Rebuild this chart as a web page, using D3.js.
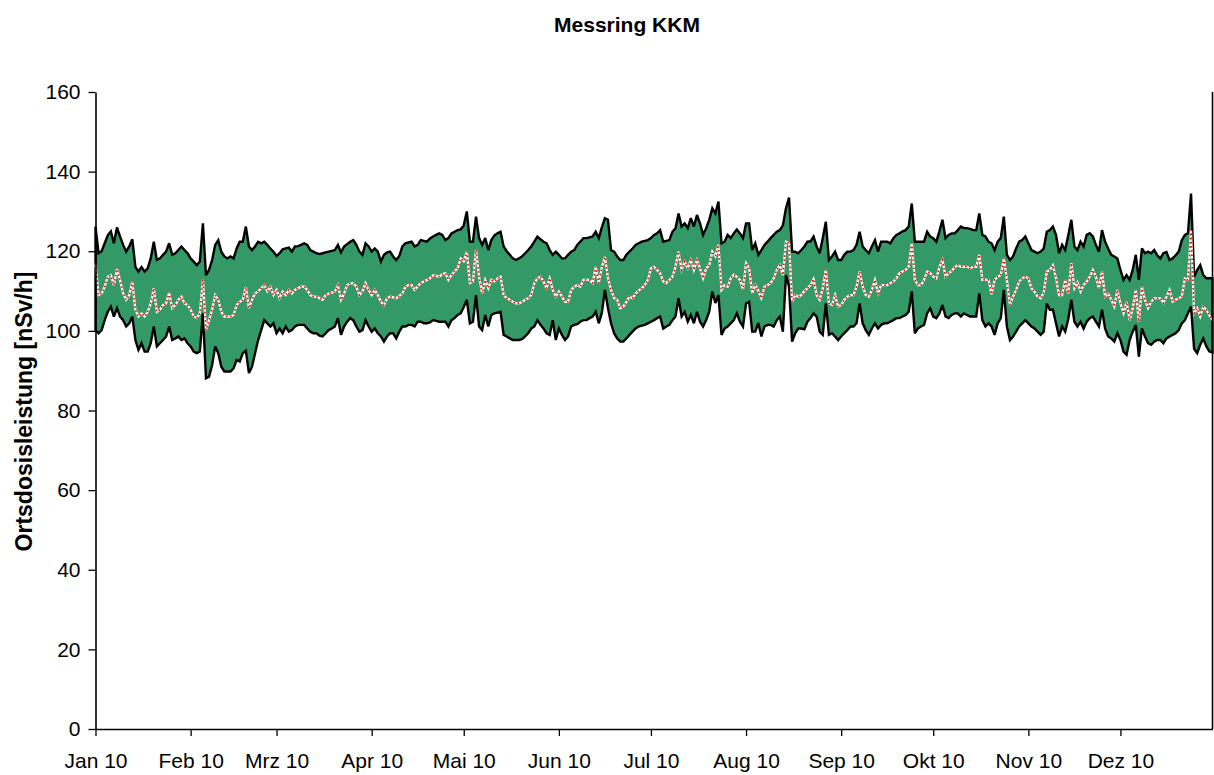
<!DOCTYPE html>
<html>
<head>
<meta charset="utf-8">
<script src="https://cdn.jsdelivr.net/npm/d3@7"></script>
<style>
  html, body { margin: 0; padding: 0; background: #fff; }
  svg { display: block; }
  text { font-family: "Liberation Sans", Arial, sans-serif; fill: #000; }
</style>
</head>
<body>
<svg id="chart" width="1214" height="775"></svg>
<script>
// Daily dose-rate readings 2010, KKM measuring ring (nSv/h)
const startDate = "2010-01-01";
const endDate = "2010-12-31";

// daily maximum over all stations
const maxValues = [
  126.2,119.5,120.0,122.0,124.0,125.0,122.0,126.0,123.7,121.6,
  119.9,121.2,123.0,116.1,114.9,116.0,114.9,115.7,118.2,122.4,
  117.8,118.2,119.1,119.9,122.0,119.1,119.5,120.3,121.2,120.3,
  119.5,118.2,117.4,116.5,117.4,127.0,114.0,115.3,117.8,121.6,
  122.8,119.9,118.7,118.2,118.7,118.2,120.7,122.4,122.4,126.2,
  121.2,120.3,121.2,122.4,122.0,122.4,121.6,120.7,119.9,118.8,
  119.5,120.5,120.7,120.9,119.9,121.2,121.3,121.6,122.0,121.6,
  120.3,119.9,119.5,119.3,119.5,119.7,119.9,120.1,120.3,121.6,
  119.7,121.2,121.8,122.4,122.8,121.6,119.9,119.1,122.0,121.2,
  119.9,120.7,119.9,117.4,119.1,119.7,119.9,118.7,117.8,118.8,
  121.2,122.0,122.2,122.4,121.2,121.6,122.8,122.6,122.4,123.2,
  123.7,124.1,124.5,124.1,122.8,123.3,124.5,124.9,125.3,125.5,
  126.5,130.0,122.4,122.4,128.7,123.3,121.6,123.3,120.3,122.8,
  124.0,124.5,124.9,121.2,120.0,119.1,118.2,117.8,118.2,118.7,
  119.5,120.3,121.2,122.4,123.7,123.0,122.4,122.0,120.3,119.1,
  119.9,119.1,118.2,118.2,119.1,119.9,120.3,121.6,122.4,123.3,
  123.3,123.5,123.7,124.9,123.3,126.0,128.3,127.9,120.3,119.9,
  118.7,117.8,117.8,119.1,119.9,120.7,121.6,122.0,122.4,122.6,
  122.8,123.3,124.1,124.5,125.3,122.4,122.6,122.8,124.9,125.8,
  129.5,126.2,127.0,125.8,128.3,126.2,129.1,127.0,124.1,125.8,
  127.9,130.8,129.5,132.5,122.0,122.4,124.1,123.3,124.5,125.5,
  124.5,123.3,127.0,127.0,120.3,122.0,119.1,120.3,121.6,122.4,
  123.3,124.1,124.9,125.3,126.5,130.8,133.5,119.9,119.9,119.5,
  120.3,121.2,122.4,122.5,123.7,121.2,119.5,123.3,127.4,117.8,
  118.7,119.9,117.8,117.8,119.1,119.9,119.9,120.3,121.6,124.9,
  121.2,120.3,119.5,121.2,122.8,119.9,122.4,122.4,122.4,122.0,
  123.3,124.1,124.5,125.0,125.3,126.2,132.0,122.4,122.4,122.4,
  122.4,124.9,123.7,123.3,122.4,125.0,127.9,123.3,124.1,124.5,
  124.5,125.3,126.2,125.8,125.8,125.6,125.3,125.3,129.5,124.1,
  123.7,122.4,122.0,120.3,122.4,123.3,128.7,119.1,117.8,118.7,
  120.7,122.4,122.8,123.7,122.0,120.3,119.9,119.5,119.9,120.7,
  124.9,125.3,126.2,124.1,119.5,121.6,120.3,124.0,127.9,121.2,
  120.3,122.4,121.2,124.1,124.5,123.7,121.6,119.9,125.3,122.4,
  120.7,119.1,118.7,118.2,115.3,112.8,114.0,112.8,115.3,119.1,
  112.8,120.7,119.5,119.9,119.5,120.3,119.0,118.2,119.5,119.8,
  117.8,118.2,119.0,119.9,122.8,124.1,124.5,134.5,113.6,115.3,
  116.5,114.0,113.2,113.2,113.2
];

// daily mean over all stations
const meanValues = [
  116.9,109.0,109.4,111.1,113.6,114.0,111.5,115.5,112.8,109.4,
  107.8,109.0,112.4,105.3,103.6,104.4,103.6,104.8,106.9,110.7,
  104.8,105.3,106.5,106.9,109.6,105.7,106.5,107.8,108.6,106.9,
  106.5,105.3,103.6,103.2,104.4,112.8,100.2,102.7,105.3,109.0,
  107.8,104.8,103.6,103.6,103.6,104.0,106.5,107.3,107.8,111.0,
  105.7,107.8,109.4,109.9,110.7,111.5,109.9,111.1,109.0,110.3,
  108.2,109.9,109.0,110.3,109.4,110.3,110.7,111.1,111.1,110.3,
  109.0,108.6,108.6,108.2,107.8,109.0,109.4,109.6,109.9,111.5,
  107.8,109.4,111.5,111.9,112.0,111.1,109.0,109.9,112.0,110.3,
  109.0,110.3,109.0,107.3,106.5,108.2,108.6,108.4,108.2,108.8,
  109.4,111.1,111.5,111.5,110.3,111.2,112.0,112.4,112.8,113.2,
  114.0,113.8,113.6,114.2,114.5,112.8,114.0,114.9,115.7,118.2,
  117.5,119.9,112.0,112.4,120.3,113.6,109.4,112.8,110.7,112.8,
  112.4,113.2,113.6,109.0,108.2,107.8,107.3,106.9,106.9,107.3,
  107.8,108.2,109.0,112.0,113.2,113.6,112.4,110.7,113.2,110.3,
  108.6,109.9,108.6,107.3,107.3,110.3,111.1,111.5,111.1,112.8,
  112.8,112.8,112.0,116.1,112.0,116.0,118.6,113.2,110.3,108.2,
  107.8,105.7,106.1,107.3,108.6,108.2,109.4,110.1,110.7,111.5,
  112.8,115.7,116.1,115.3,114.5,112.4,112.0,112.8,113.6,116.1,
  119.9,115.3,117.4,115.7,117.8,115.3,117.8,115.7,113.2,115.7,
  116.5,119.9,118.7,121.6,110.3,111.5,111.1,113.2,114.1,113.6,
  112.8,110.3,117.0,115.7,109.4,111.5,110.0,108.2,111.1,111.5,
  112.0,113.2,115.3,116.5,114.0,122.4,122.0,107.3,109.0,108.6,
  109.0,110.0,110.7,111.5,113.0,109.0,107.8,110.7,115.3,106.9,
  106.5,109.0,106.1,106.5,107.8,108.6,109.0,109.0,111.1,114.9,
  111.1,109.0,108.6,110.3,112.8,109.4,111.5,111.5,111.5,112.0,
  112.4,113.2,114.5,114.9,115.3,116.1,122.0,112.8,111.5,111.5,
  112.8,114.9,114.5,113.6,113.2,116.0,117.8,113.6,114.5,115.0,
  116.0,116.5,116.1,116.1,116.1,115.7,116.1,116.1,119.1,112.8,
  112.8,112.8,109.2,112.8,113.6,114.0,118.2,112.8,106.5,108.6,
  110.3,112.4,113.2,113.6,113.2,110.7,109.8,108.6,108.2,109.6,
  114.9,115.3,116.5,113.2,109.0,109.0,112.8,109.4,117.0,110.7,
  112.2,109.9,111.5,112.4,113.6,115.3,113.6,110.7,114.9,108.6,
  109.4,107.8,106.1,110.3,106.9,104.4,107.3,102.7,105.7,110.3,
  102.3,111.1,107.8,105.7,107.3,108.2,108.2,108.2,107.0,108.6,
  110.3,107.3,107.8,108.2,108.6,113.2,112.8,125.3,104.4,105.7,
  103.6,106.1,105.3,103.8,102.7
];

// daily minimum over all stations
const minValues = [
  100.2,99.4,100.2,102.7,104.8,106.1,103.6,105.7,103.6,102.7,
  101.1,101.9,103.6,97.7,95.2,96.9,94.8,94.8,96.9,101.1,
  96.1,96.9,97.7,98.6,101.1,97.7,98.1,98.6,97.7,98.1,
  96.9,96.1,94.8,94.4,94.8,104.4,88.1,88.5,91.4,96.1,
  94.4,91.0,89.8,89.8,89.8,90.6,92.7,92.3,94.4,95.0,
  89.4,91.0,94.4,97.7,100.2,102.7,101.9,101.1,101.9,99.4,
  100.6,99.4,101.1,99.8,100.2,101.1,101.5,101.5,101.5,100.6,
  99.8,99.4,99.4,98.8,98.6,99.4,100.2,100.6,101.1,103.2,
  99.0,101.1,102.3,103.2,102.7,101.1,99.8,100.2,102.7,101.1,
  99.8,100.6,99.4,98.6,97.3,98.6,99.4,99.4,98.1,99.8,
  101.1,101.1,101.5,101.5,101.1,102.3,102.3,101.9,101.9,102.1,
  102.7,102.5,102.3,102.3,102.3,101.1,102.7,103.2,104.0,104.4,
  106.0,107.8,101.9,102.3,109.0,101.1,100.2,104.0,101.1,104.0,
  104.4,104.6,104.8,99.0,98.6,98.1,97.7,97.7,97.7,97.9,
  98.6,99.4,100.6,101.1,102.7,101.5,100.6,99.4,99.0,102.7,
  97.7,100.6,99.0,97.7,98.6,101.1,101.5,101.7,102.3,102.7,
  102.7,103.2,103.6,104.8,101.9,104.5,110.3,105.7,101.9,99.4,
  98.1,97.3,97.3,98.1,99.0,99.8,100.6,101.1,101.3,101.5,
  101.9,102.3,102.7,103.2,103.6,100.6,101.1,101.5,102.7,103.6,
  108.2,103.6,104.8,102.3,104.0,101.9,104.8,102.3,101.1,102.7,
  104.8,109.9,107.0,109.0,99.0,100.6,101.1,101.9,102.7,104.4,
  102.3,101.1,106.9,107.3,99.8,99.8,102.0,98.6,101.1,101.5,
  101.5,101.1,102.7,103.6,99.8,114.0,111.1,97.3,99.4,100.6,
  100.6,100.4,102.3,103.2,104.4,103.6,99.8,99.0,106.9,99.0,
  99.4,98.6,97.7,98.6,99.4,100.2,101.1,101.1,101.9,106.9,
  101.9,100.2,99.0,100.6,101.9,100.6,101.5,101.9,101.9,102.3,
  102.7,103.2,103.2,103.6,104.0,104.8,109.9,99.4,100.6,101.1,
  101.5,104.4,105.7,103.6,103.2,104.4,106.5,103.6,103.2,104.0,
  104.4,104.4,103.6,104.4,104.0,103.6,103.6,103.6,109.4,102.7,
  101.1,101.9,101.1,99.0,101.9,103.2,110.3,101.1,97.7,98.6,
  99.8,101.1,101.9,102.7,101.9,101.1,100.6,99.8,99.0,99.8,
  106.9,105.3,105.3,101.9,98.6,101.1,99.8,103.0,107.8,102.3,
  101.1,102.3,100.6,102.3,103.2,103.6,102.3,101.1,105.3,100.6,
  98.6,98.1,97.3,99.4,97.7,94.8,94.0,97.7,99.8,101.5,
  93.5,100.6,98.6,96.9,96.5,97.3,97.7,97.7,96.9,98.1,
  98.6,99.0,99.4,100.2,101.9,102.7,104.4,106.1,95.5,94.4,
  96.5,98.1,96.1,94.8,94.6
];

const monthLabels = ["Jan 10","Feb 10","Mrz 10","Apr 10","Mai 10","Jun 10",
                     "Jul 10","Aug 10","Sep 10","Okt 10","Nov 10","Dez 10"];
const yTicks = [0, 20, 40, 60, 80, 100, 120, 140, 160];

const titleText = "Messring KKM";
const yTitle = "Ortsdosisleistung [nSv/h]";

// one row per day
const t0 = new Date(startDate + "T00:00:00Z");
const rows = maxValues.map((v, i) => ({
  date: d3.utcDay.offset(t0, i),
  max: v,
  mean: meanValues[i],
  min: minValues[i]
}));

const svg = d3.select("#chart");
const plotLeft = 95.5, plotRight = 1212.5, plotTop = 92, plotBottom = 729;

const x = d3.scaleUtc()
  .domain([t0, new Date(endDate + "T00:00:00Z")])
  .range([plotLeft, plotRight]);
const y = d3.scaleLinear().domain([0, 160]).range([plotBottom, plotTop]);

// band between daily min and max
const band = d3.area()
  .x(d => x(d.date))
  .y0(d => y(d.min))
  .y1(d => y(d.max));

svg.append("path")
  .datum(rows)
  .attr("d", band)
  .attr("fill", "#339966")
  .attr("stroke", "#000")
  .attr("stroke-width", 2.4)
  .attr("stroke-linejoin", "miter")
  .attr("stroke-miterlimit", 3);

// daily mean: white line with red dots
const meanLine = d3.line().x(d => x(d.date)).y(d => y(d.mean));
svg.append("path")
  .datum(rows)
  .attr("d", meanLine)
  .attr("fill", "none")
  .attr("stroke", "#fff")
  .attr("stroke-width", 2.2);
svg.append("path")
  .datum(rows)
  .attr("d", meanLine)
  .attr("fill", "none")
  .attr("stroke", "#ff0000")
  .attr("stroke-width", 1.6)
  .attr("stroke-dasharray", "1.6,2.6");

// axes
const monthStarts = d3.utcMonth.range(t0, d3.utcDay.offset(x.domain()[1], 1));

const yAxis = svg.append("g")
  .attr("transform", `translate(${plotLeft},0)`)
  .call(d3.axisLeft(y).tickValues(yTicks).tickSize(7).tickSizeOuter(0).tickPadding(8));
const xAxis = svg.append("g")
  .attr("transform", `translate(0,${plotBottom})`)
  .call(d3.axisBottom(x).tickValues(monthStarts).tickSize(7).tickSizeOuter(0).tickPadding(17)
    .tickFormat((d, i) => monthLabels[i]));

[yAxis, xAxis].forEach(g => {
  g.selectAll("path.domain").attr("stroke", "#000").attr("stroke-width", 1.6);
  g.selectAll(".tick line").attr("stroke", "#000").attr("stroke-width", 1.3);
  g.selectAll(".tick text")
    .style("font-family", '"Liberation Sans", Arial, sans-serif')
    .style("font-size", "21px")
    .attr("fill", "#000");
});

// right edge of the plot frame
svg.append("line")
  .attr("x1", plotRight).attr("x2", plotRight)
  .attr("y1", plotTop).attr("y2", plotBottom)
  .attr("stroke", "#000").attr("stroke-width", 1.6);

// titles
svg.append("text")
  .attr("x", 627).attr("y", 32)
  .attr("text-anchor", "middle")
  .style("font-size", "21px").style("font-weight", "bold")
  .text(titleText);

svg.append("text")
  .attr("transform", "translate(31.5,411.5) rotate(-90)")
  .attr("text-anchor", "middle")
  .style("font-size", "23px").style("font-weight", "bold")
  .text(yTitle);
</script>
</body>
</html>
